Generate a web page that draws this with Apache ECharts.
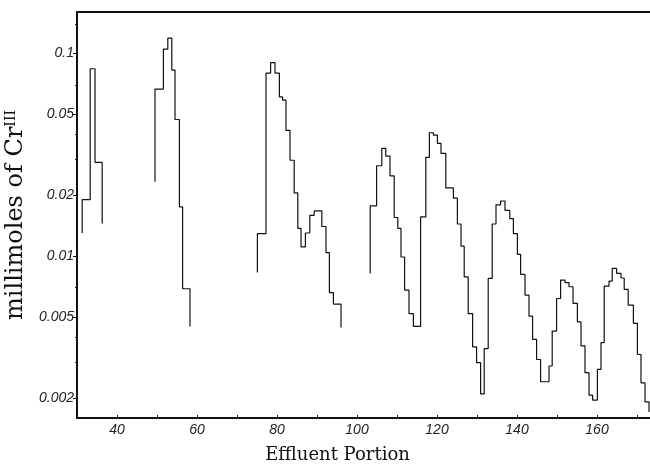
<!DOCTYPE html>
<html>
<head>
<meta charset="utf-8">
<script src="https://cdn.jsdelivr.net/npm/echarts@6/dist/echarts.min.js"></script>
<style>
  html, body { margin: 0; padding: 0; background: #fff; }
  #chart { width: 650px; height: 469px; }
</style>
</head>
<body>
<div id="chart"></div>
<script>
// histogram pieces: bin edges (effluent portion), bin values (millimoles), and the short end drops
const seg1Edges = [31.3, 33.3, 34.5, 36.3];
const seg1Values = [0.019, 0.084, 0.029];
const seg1Tails = [0.013, 0.0145];

const seg2Edges = [49.5, 51.6, 52.7, 53.7, 54.5, 55.6, 56.4, 58.25];
const seg2Values = [0.0667, 0.105, 0.119, 0.0827, 0.0472, 0.0175, 0.0069];
const seg2Tails = [0.0233, 0.0045];

const seg3Edges = [75.1, 77.25, 78.4, 79.5, 80.6, 81.4, 82.25, 83.25, 84.3, 85.2, 86.0, 87.1, 88.2, 89.3,
    91.2, 92.25, 93.1, 94.1, 96.0];
const seg3Values = [0.0129, 0.080, 0.090, 0.080, 0.061, 0.0588, 0.0417, 0.0297, 0.0205, 0.0137, 0.0111,
    0.0130, 0.0159, 0.0167, 0.0140, 0.0104, 0.0066, 0.0058];
const seg3Tails = [0.0083, 0.00445];

const seg4Edges = [103.3, 104.9, 106.2, 107.2, 108.25, 109.3, 110.2, 111, 111.9, 113, 114.1, 115.9,
    117.2, 118.1, 119.1, 120.1, 121, 122.2, 124.1, 125.1, 126, 126.8, 127.8, 128.9, 129.9, 130.9,
    131.8, 132.8, 133.8, 134.75, 135.9, 137, 138.2, 139.1, 140.1, 140.9, 142, 143, 143.9, 144.9,
    145.9, 148, 148.8, 149.9, 150.9, 152, 153, 154, 155.1, 156, 157, 158, 158.9, 160.1, 161, 161.8,
    163, 163.8, 164.9, 166, 166.8, 167.8, 169.1, 170.1, 171, 172, 173];
const seg4Values = [0.0177, 0.0279, 0.034, 0.0311, 0.0249, 0.0155, 0.0137, 0.0099, 0.0068, 0.0052, 0.0045,
    0.0156, 0.0307, 0.0406, 0.0395, 0.036, 0.0321, 0.0217, 0.0193, 0.0144, 0.0112, 0.0079, 0.0052,
    0.00357, 0.00298, 0.00209, 0.0035, 0.00776, 0.0144, 0.0179, 0.0187, 0.0168, 0.0153, 0.0129,
    0.0102, 0.00812, 0.00642, 0.00506, 0.00388, 0.00309, 0.0024, 0.00287, 0.00427, 0.00618, 0.00762,
    0.0074, 0.00706, 0.00585, 0.00474, 0.00361, 0.00266, 0.00206, 0.00195, 0.00276, 0.00374, 0.00711,
    0.00753, 0.00869, 0.00821, 0.0078, 0.00686, 0.00573, 0.00466, 0.00327, 0.00237, 0.00191];
const seg4Tails = [0.0082, 0.0017];

const yLabelValues = [0.002, 0.005, 0.01, 0.02, 0.05, 0.1];
const yMinorTicks = [0.003, 0.004, 0.007, 0.03, 0.04, 0.07, 0.14];

function stepData(edges, values, tails) {
    let d = [[edges[0], tails[0]]];
    for (let i = 0; i < values.length; i++) {
        d.push([edges[i], values[i]]);
    }
    d.push([edges[edges.length - 1], tails[1]]);
    return d;
}

function stepSeries(edges, values, tails) {
    return {
        type: 'line',
        step: 'end',
        data: stepData(edges, values, tails),
        showSymbol: false,
        symbol: 'none',
        lineStyle: { color: '#111', width: 1.2 },
        silent: true
    };
}

let chartDom = document.getElementById('chart');
let myChart = echarts.init(chartDom, null, { renderer: 'canvas' });

const serif = 'DejaVu Serif';
const tickFont = { fontFamily: 'Liberation Sans', fontStyle: 'italic', fontSize: 14, color: '#222' };

let option = {
    animation: false,
    backgroundColor: '#fff',
    grid: { left: 77, right: 0, top: 12, bottom: 51, outerBoundsMode: 'none' },
    xAxis: [
        {
            type: 'value',
            min: 30,
            max: 173.25,
            interval: 10,
            name: 'Effluent Portion',
            nameLocation: 'middle',
            nameGap: 28,
            nameTextStyle: { fontFamily: serif, fontSize: 18, color: '#111', padding: [0, 52, 0, 0] },
            axisLine: { lineStyle: { color: '#111', width: 2 } },
            axisTick: { inside: true, length: 3, lineStyle: { color: '#111' } },
            axisLabel: Object.assign({
                margin: 5,
                formatter: function (v) { return v % 20 === 0 ? String(v) : ''; }
            }, tickFont),
            splitLine: { show: false }
        },
        {
            type: 'value',
            position: 'top',
            min: 30,
            max: 173.25,
            axisLine: { show: true, onZero: false, lineStyle: { color: '#111', width: 2 } },
            axisTick: { show: false },
            axisLabel: { show: false },
            splitLine: { show: false }
        }
    ],
    yAxis: [
        {
            type: 'log',
            min: 0.00159,
            max: 0.16,
            name: '{a|millimoles of Cr}{s|III}',
            nameLocation: 'middle',
            nameGap: 44,
            nameTextStyle: {
                rich: {
                    a: { fontFamily: serif, fontSize: 24, color: '#111' },
                    s: { fontFamily: serif, fontSize: 14, color: '#111', verticalAlign: 'top' }
                }
            },
            axisLine: { lineStyle: { color: '#111', width: 2 } },
            axisTick: { length: 4, customValues: yLabelValues, lineStyle: { color: '#111' } },
            axisLabel: Object.assign({
                margin: 3,
                customValues: yLabelValues,
                formatter: function (v) { return String(+(+v).toPrecision(3)); }
            }, tickFont),
            splitLine: { show: false }
        },
        {
            type: 'log',
            min: 0.00159,
            max: 0.16,
            position: 'left',
            axisLine: { show: false },
            axisTick: { length: 2, customValues: yMinorTicks, lineStyle: { color: '#111' } },
            axisLabel: { show: false },
            splitLine: { show: false }
        }
    ],
    series: [
        stepSeries(seg1Edges, seg1Values, seg1Tails),
        stepSeries(seg2Edges, seg2Values, seg2Tails),
        stepSeries(seg3Edges, seg3Values, seg3Tails),
        stepSeries(seg4Edges, seg4Values, seg4Tails)
    ]
};

option && myChart.setOption(option);
</script>
</body>
</html>
